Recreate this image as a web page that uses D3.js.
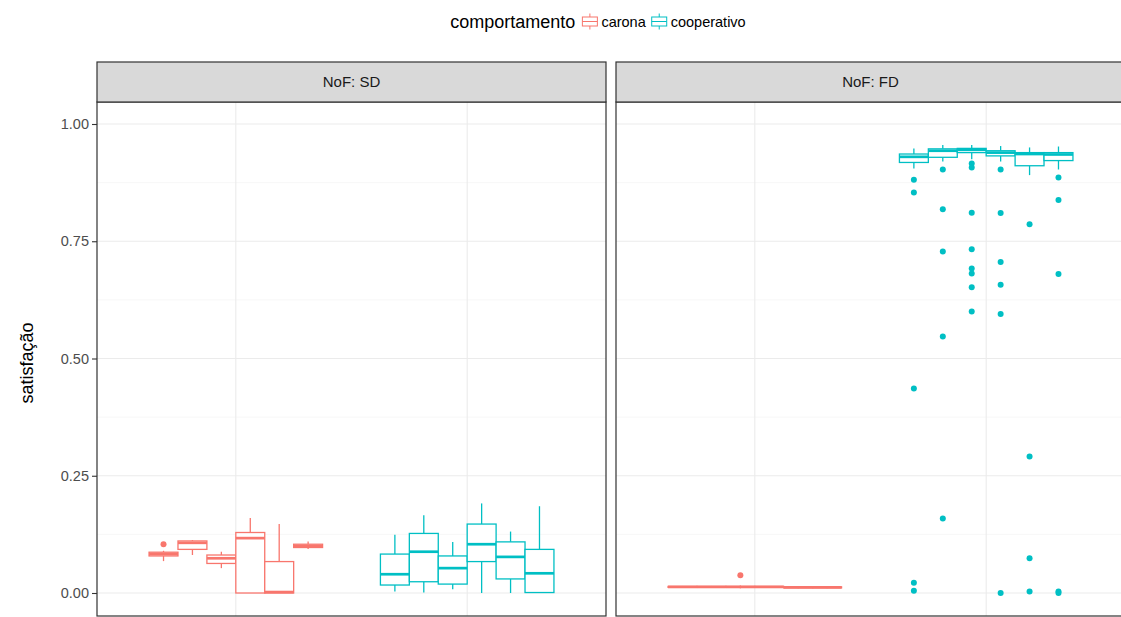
<!DOCTYPE html>
<html><head><meta charset="utf-8">
<script src="https://cdn.jsdelivr.net/npm/d3@7"></script>
<style>body{margin:0;background:#fff;overflow:hidden}svg{display:block}text{font-family:"Liberation Sans",Arial,sans-serif}</style>
</head><body><svg id="c" width="1121" height="617"></svg>
<script>
// ---------- data ----------
const facets = ["NoF: SD", "NoF: FD"];
const behaviours = ["carona", "cooperativo"];
const subgroups = ["1", "2", "3", "4", "5", "6"];
const yTicks = [0, 0.25, 0.5, 0.75, 1.0];
const yTickLabels = ["0.00", "0.25", "0.50", "0.75", "1.00"];
const colors = ["#F8766D", "#00BFC4"];

// box stats per subgroup: [lowerWhisker, q1, median, q3, upperWhisker]
const sdCaronaStats = [
  [0.068, 0.079, 0.083, 0.087, 0.090],
  [0.081, 0.093, 0.107, 0.111, 0.113],
  [0.053, 0.063, 0.074, 0.081, 0.088],
  [0.000, 0.000, 0.117, 0.129, 0.160],
  [0.000, 0.000, 0.002, 0.067, 0.147],
  [0.094, 0.097, 0.100, 0.104, 0.110]
];
const sdCoopStats = [
  [0.003, 0.017, 0.040, 0.083, 0.124],
  [0.001, 0.024, 0.088, 0.127, 0.166],
  [0.008, 0.019, 0.053, 0.079, 0.109],
  [0.000, 0.067, 0.104, 0.147, 0.191],
  [0.000, 0.030, 0.077, 0.109, 0.131],
  [0.000, 0.001, 0.042, 0.093, 0.185]
];
const fdCaronaStats = [
  [0.011, 0.012, 0.013, 0.014, 0.015],
  [0.011, 0.012, 0.013, 0.014, 0.015],
  [0.010, 0.012, 0.013, 0.014, 0.016],
  [0.011, 0.012, 0.013, 0.014, 0.015],
  [0.010, 0.011, 0.012, 0.013, 0.014],
  [0.010, 0.011, 0.012, 0.013, 0.014]
];
const fdCoopStats = [
  [0.905, 0.918, 0.930, 0.936, 0.948],
  [0.920, 0.929, 0.943, 0.947, 0.955],
  [0.925, 0.939, 0.945, 0.948, 0.955],
  [0.920, 0.932, 0.939, 0.943, 0.953],
  [0.891, 0.911, 0.936, 0.939, 0.950],
  [0.903, 0.922, 0.935, 0.939, 0.952]
];
// outliers: [subgroupIndex, value]
const sdCaronaOutliers = [[0, 0.104]];
const sdCoopOutliers = [];
const fdCaronaOutliers = [[2, 0.038]];
const fdCoopOutliers = [
  [0, 0.881], [0, 0.854], [0, 0.436], [0, 0.022], [0, 0.005],
  [1, 0.903], [1, 0.818], [1, 0.728], [1, 0.547], [1, 0.159],
  [2, 0.916], [2, 0.907], [2, 0.811], [2, 0.733], [2, 0.692], [2, 0.681], [2, 0.652], [2, 0.600],
  [3, 0.903], [3, 0.810], [3, 0.706], [3, 0.657], [3, 0.595], [3, 0.000],
  [4, 0.786], [4, 0.291], [4, 0.074], [4, 0.003],
  [5, 0.886], [5, 0.838], [5, 0.680], [5, 0.003], [5, 0.000]
];

const statsBy = [[sdCaronaStats, sdCoopStats], [fdCaronaStats, fdCoopStats]];
const outliersBy = [[sdCaronaOutliers, sdCoopOutliers], [fdCaronaOutliers, fdCoopOutliers]];

// ---------- layout ----------
const svg = d3.select("#c");
const panelX = [97, 616];
const panelW = 509;
const stripTop = 62, stripH = 40;
const panelTop = stripTop + stripH, panelBottom = 616;
const font = 14.5;

const y = d3.scaleLinear().domain([0, 1]).range([593, 124]);

const g = svg.append("g");

facets.forEach((f, fi) => {
  const x0 = panelX[fi];
  const x = d3.scalePoint().domain(behaviours).range([x0, x0 + panelW]).padding(0.6);
  const step = x.step();
  const dodge = d3.scaleBand().domain(subgroups).range([-0.375 * step, 0.375 * step]).paddingInner(0);
  const bw = dodge.bandwidth();
  const p = g.append("g");

  const minors = [0.125, 0.375, 0.625, 0.875];
  p.selectAll(".mn").data(minors).enter().append("line")
    .attr("x1", x0).attr("x2", x0 + panelW).attr("y1", d => y(d)).attr("y2", d => y(d))
    .attr("stroke", "#F5F5F5").attr("stroke-width", 0.8);
  p.selectAll(".mj").data(yTicks).enter().append("line")
    .attr("x1", x0).attr("x2", x0 + panelW).attr("y1", d => y(d)).attr("y2", d => y(d))
    .attr("stroke", "#EBEBEB").attr("stroke-width", 1.1);
  p.selectAll(".vx").data(behaviours).enter().append("line")
    .attr("x1", d => x(d)).attr("x2", d => x(d)).attr("y1", panelTop).attr("y2", panelBottom)
    .attr("stroke", "#EBEBEB").attr("stroke-width", 1.1);

  behaviours.forEach((b, bi) => {
    const col = colors[bi];
    const stats = statsBy[fi][bi];
    const bx = i => x(b) + dodge(subgroups[i]);
    const cx = i => bx(i) + bw / 2;
    const bg = p.append("g");
    bg.selectAll(".wu").data(stats).enter().append("line")
      .attr("x1", (d, i) => cx(i)).attr("x2", (d, i) => cx(i))
      .attr("y1", d => y(d[3])).attr("y2", d => y(d[4]))
      .attr("stroke", col).attr("stroke-width", 1.3);
    bg.selectAll(".wl").data(stats).enter().append("line")
      .attr("x1", (d, i) => cx(i)).attr("x2", (d, i) => cx(i))
      .attr("y1", d => y(d[1])).attr("y2", d => y(d[0]))
      .attr("stroke", col).attr("stroke-width", 1.3);
    bg.selectAll(".bx").data(stats).enter().append("rect")
      .attr("x", (d, i) => bx(i)).attr("width", bw)
      .attr("y", d => y(d[3])).attr("height", d => Math.max(0, y(d[1]) - y(d[3])))
      .attr("fill", "white").attr("stroke", col).attr("stroke-width", 1.3);
    bg.selectAll(".md").data(stats).enter().append("line")
      .attr("x1", (d, i) => bx(i)).attr("x2", (d, i) => bx(i) + bw)
      .attr("y1", d => y(d[2])).attr("y2", d => y(d[2]))
      .attr("stroke", col).attr("stroke-width", 2.7);
    bg.selectAll(".ol").data(outliersBy[fi][bi]).enter().append("circle")
      .attr("cx", d => cx(d[0])).attr("cy", d => y(d[1])).attr("r", 3)
      .attr("fill", col);
  });

  p.append("rect").attr("x", x0).attr("y", panelTop).attr("width", panelW).attr("height", panelBottom - panelTop)
    .attr("fill", "none").attr("stroke", "#333333").attr("stroke-width", 1.2);
  p.append("rect").attr("x", x0).attr("y", stripTop).attr("width", panelW).attr("height", stripH)
    .attr("fill", "#D9D9D9").attr("stroke", "#333333").attr("stroke-width", 1.2);
  p.append("text").attr("x", x0 + panelW / 2).attr("y", stripTop + stripH / 2).attr("dy", "0.35em")
    .attr("text-anchor", "middle").attr("font-size", 15).attr("fill", "#1A1A1A").text(f);
});

// y axis
const ax = svg.append("g").attr("transform", `translate(${panelX[0]},0)`);
const axis = d3.axisLeft(y).tickValues(yTicks).tickFormat((d, i) => yTickLabels[i]).tickSize(5).tickPadding(3);
ax.call(axis);
ax.select(".domain").remove();
ax.selectAll(".tick line").attr("stroke", "#333333").attr("stroke-width", 1.1);
ax.selectAll(".tick text").attr("font-size", font).attr("fill", "#4D4D4D")
  .style("font-family", '"Liberation Sans",Arial,sans-serif');

svg.append("text").attr("transform", `translate(33,${(panelTop + panelBottom) / 2 + 4}) rotate(-90)`)
  .attr("text-anchor", "middle").attr("font-size", 18).attr("fill", "#000").text("satisfação");

// legend
const lg = svg.append("g");
const ly = 22;
const title = lg.append("text").attr("x", 0).attr("y", ly).attr("dy", "0.35em")
  .attr("font-size", 18).attr("fill", "#000").text("comportamento");
let cx = title.node().getComputedTextLength() + 6;
behaviours.forEach((b, i) => {
  const k = lg.append("g").attr("transform", `translate(${cx},${ly - 9})`);
  const kw = 17, kh = 17;
  k.append("line").attr("x1", kw / 2).attr("x2", kw / 2).attr("y1", 0.5).attr("y2", kh - 0.5)
    .attr("stroke", colors[i]).attr("stroke-width", 1);
  k.append("rect").attr("x", 1).attr("y", 4).attr("width", kw - 2).attr("height", kh - 8)
    .attr("fill", "white").attr("stroke", colors[i]).attr("stroke-width", 1);
  k.append("line").attr("x1", 1).attr("x2", kw - 1).attr("y1", kh / 2).attr("y2", kh / 2)
    .attr("stroke", colors[i]).attr("stroke-width", 1);
  cx += kw + 3;
  const t = lg.append("text").attr("x", cx).attr("y", ly).attr("dy", "0.35em")
    .attr("font-size", 14.5).attr("fill", "#000").text(b);
  cx += t.node().getComputedTextLength() + 5;
});
const lw = cx - 5;
lg.attr("transform", `translate(${598 - lw / 2},0)`);
</script></body></html>
